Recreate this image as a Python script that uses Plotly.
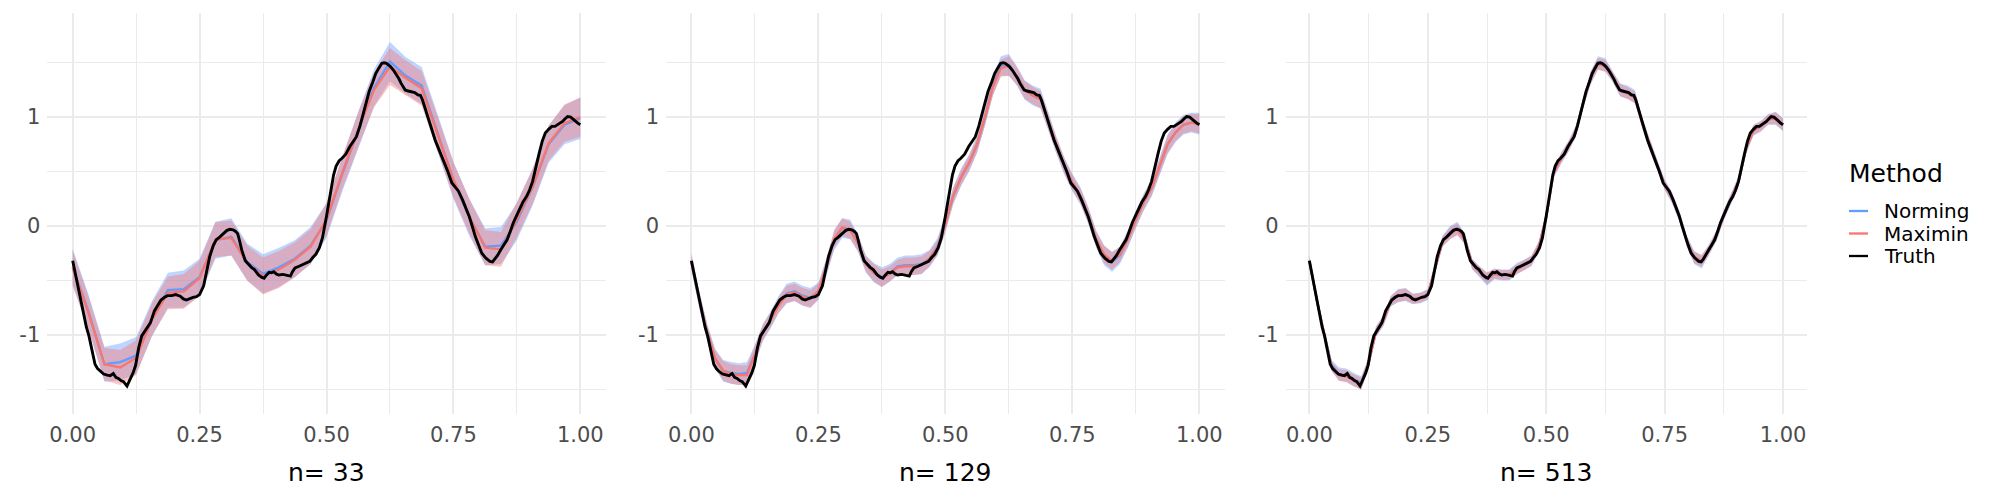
import plotly.graph_objects as go

# ---- data -------------------------------------------------------------
truth_x = [0.000, 0.010, 0.019, 0.027, 0.032, 0.038, 0.044, 0.049, 0.053, 0.061,
           0.068, 0.074, 0.080, 0.085, 0.090, 0.095, 0.100, 0.107, 0.113, 0.119,
           0.124, 0.130, 0.136, 0.145, 0.153, 0.161, 0.168, 0.174, 0.181, 0.187,
           0.195, 0.203, 0.212, 0.218, 0.224, 0.231, 0.237, 0.244, 0.250, 0.258,
           0.264, 0.270, 0.277, 0.283, 0.290, 0.295, 0.304, 0.310, 0.316, 0.321,
           0.325, 0.329, 0.333, 0.340, 0.346, 0.352, 0.358, 0.366, 0.372, 0.377,
           0.382, 0.387, 0.392, 0.396, 0.401, 0.406, 0.414, 0.421, 0.429, 0.433,
           0.438, 0.446, 0.454, 0.460, 0.467, 0.473, 0.479, 0.486, 0.492, 0.500,
           0.508, 0.514, 0.519, 0.525, 0.530, 0.538, 0.546, 0.552, 0.559, 0.566,
           0.572, 0.578, 0.584, 0.591, 0.597, 0.603, 0.609, 0.614, 0.618, 0.622,
           0.626, 0.632, 0.638, 0.643, 0.647, 0.651, 0.655, 0.661, 0.668, 0.674,
           0.680, 0.685, 0.689, 0.695, 0.701, 0.707, 0.714, 0.720, 0.726, 0.733,
           0.739, 0.747, 0.753, 0.760, 0.768, 0.775, 0.781, 0.787, 0.793, 0.800,
           0.806, 0.814, 0.822, 0.827, 0.831, 0.837, 0.843, 0.850, 0.856, 0.862,
           0.868, 0.875, 0.881, 0.887, 0.894, 0.900, 0.906, 0.912, 0.919, 0.925,
           0.931, 0.938, 0.944, 0.950, 0.956, 0.961, 0.965, 0.970, 0.975, 0.981,
           0.986, 0.990, 0.995, 1.000]
truth_y = [-0.32, -0.55, -0.77, -0.93, -1.01, -1.14, -1.27, -1.31, -1.33, -1.36,
           -1.37, -1.375, -1.355, -1.39, -1.40, -1.42, -1.43, -1.47, -1.41, -1.35,
           -1.28, -1.12, -1.01, -0.94, -0.89, -0.78, -0.72, -0.68, -0.655, -0.64,
           -0.64, -0.63, -0.645, -0.67, -0.68, -0.665, -0.655, -0.65, -0.63, -0.55,
           -0.42, -0.28, -0.18, -0.125, -0.10, -0.08, -0.04, -0.03, -0.035, -0.05,
           -0.07, -0.14, -0.22, -0.32, -0.355, -0.38, -0.40, -0.45, -0.47, -0.48,
           -0.45, -0.425, -0.43, -0.42, -0.44, -0.45, -0.445, -0.45, -0.46, -0.42,
           -0.385, -0.37, -0.355, -0.345, -0.325, -0.29, -0.26, -0.20, -0.11, 0.09,
           0.33, 0.47, 0.55, 0.60, 0.62, 0.66, 0.73, 0.77, 0.82, 0.92,
           1.02, 1.13, 1.235, 1.32, 1.40, 1.45, 1.495, 1.50, 1.495, 1.48,
           1.465, 1.43, 1.39, 1.35, 1.31, 1.28, 1.25, 1.24, 1.235, 1.225,
           1.205, 1.20, 1.16, 1.07, 0.975, 0.88, 0.79, 0.72, 0.655, 0.58,
           0.50, 0.395, 0.36, 0.32, 0.24, 0.16, 0.09, 0.00, -0.095, -0.18,
           -0.25, -0.295, -0.325, -0.33, -0.31, -0.27, -0.22, -0.17, -0.125, -0.05,
           0.03, 0.10, 0.165, 0.22, 0.27, 0.33, 0.41, 0.54, 0.67, 0.78,
           0.855, 0.89, 0.915, 0.915, 0.93, 0.95, 0.96, 0.985, 1.005, 1.0,
           0.98, 0.96, 0.945, 0.93]

# n = 33 design points
x33 = [k / 32 for k in range(33)]
norming_33 = [-0.38, -0.79, -1.27, -1.25, -1.19, -0.85, -0.59, -0.58, -0.47, -0.13,
              -0.10, -0.33, -0.44, -0.38, -0.30, -0.18, 0.05, 0.48, 0.88, 1.27,
              1.51, 1.38, 1.29, 0.86, 0.42, 0.08, -0.19, -0.18, 0.04, 0.36,
              0.75, 0.93, 0.99]
norming_33_hw = [0.17, 0.16, 0.16, 0.17, 0.17, 0.16, 0.16, 0.17, 0.17, 0.17,
                 0.17, 0.17, 0.18, 0.18, 0.17, 0.17, 0.16, 0.16, 0.17, 0.17,
                 0.18, 0.17, 0.17, 0.17, 0.17, 0.17, 0.17, 0.17, 0.17, 0.17,
                 0.17, 0.18, 0.19]
maximin_33 = [-0.385, -0.80, -1.27, -1.30, -1.21, -0.86, -0.615, -0.60, -0.48, -0.125,
              -0.11, -0.34, -0.46, -0.40, -0.31, -0.19, 0.06, 0.49, 0.885, 1.25,
              1.465, 1.36, 1.265, 0.855, 0.425, 0.09, -0.20, -0.215, 0.06, 0.365,
              0.76, 0.945, 1.0]
maximin_33_hw = [0.16, 0.15, 0.15, 0.16, 0.16, 0.15, 0.15, 0.16, 0.16, 0.16,
                 0.16, 0.16, 0.17, 0.17, 0.16, 0.16, 0.15, 0.15, 0.16, 0.16,
                 0.17, 0.16, 0.16, 0.16, 0.16, 0.16, 0.16, 0.16, 0.16, 0.16,
                 0.16, 0.17, 0.18]

# n = 129 and n = 513, read at every 1/64
x65 = [k / 64 for k in range(65)]
norming_129 = [-0.33, -0.68, -0.98, -1.22, -1.33, -1.35, -1.36, -1.35, -1.18, -0.98,
               -0.86, -0.72, -0.62, -0.60, -0.64, -0.66, -0.60, -0.38, -0.13, -0.02,
               -0.03, -0.16, -0.35, -0.43, -0.47, -0.43, -0.37, -0.36, -0.36, -0.35,
               -0.30, -0.19, 0.02, 0.28, 0.45, 0.58, 0.75, 1.00, 1.29, 1.47,
               1.48, 1.38, 1.25, 1.20, 1.17, 0.95, 0.74, 0.55, 0.40, 0.28,
               0.10, -0.12, -0.27, -0.33, -0.27, -0.12, 0.06, 0.22, 0.35, 0.55,
               0.75, 0.86, 0.93, 0.95, 0.94]
norming_129_hw = [0.08, 0.08, 0.08, 0.09, 0.10, 0.10, 0.10, 0.10, 0.09, 0.08,
                  0.08, 0.08, 0.09, 0.09, 0.09, 0.09, 0.08, 0.08, 0.09, 0.09,
                  0.09, 0.08, 0.08, 0.09, 0.09, 0.08, 0.08, 0.09, 0.09, 0.09,
                  0.08, 0.08, 0.08, 0.08, 0.08, 0.08, 0.08, 0.08, 0.09, 0.09,
                  0.10, 0.09, 0.09, 0.09, 0.09, 0.08, 0.08, 0.08, 0.08, 0.08,
                  0.08, 0.08, 0.09, 0.09, 0.08, 0.08, 0.08, 0.08, 0.08, 0.08,
                  0.09, 0.09, 0.09, 0.09, 0.10]
maximin_129 = [-0.33, -0.68, -0.98, -1.22, -1.33, -1.36, -1.37, -1.37, -1.18, -0.98,
               -0.86, -0.73, -0.63, -0.61, -0.65, -0.67, -0.60, -0.38, -0.12, -0.01,
               -0.04, -0.16, -0.35, -0.43, -0.48, -0.44, -0.38, -0.37, -0.37, -0.36,
               -0.30, -0.20, 0.02, 0.28, 0.45, 0.58, 0.75, 1.00, 1.28, 1.45,
               1.47, 1.38, 1.25, 1.20, 1.16, 0.95, 0.74, 0.55, 0.40, 0.28,
               0.10, -0.12, -0.26, -0.32, -0.26, -0.12, 0.06, 0.22, 0.35, 0.55,
               0.75, 0.86, 0.93, 0.95, 0.94]
maximin_129_hw = [0.07, 0.07, 0.07, 0.08, 0.09, 0.09, 0.09, 0.09, 0.08, 0.07,
                  0.07, 0.07, 0.08, 0.08, 0.08, 0.08, 0.07, 0.07, 0.08, 0.08,
                  0.08, 0.07, 0.07, 0.08, 0.08, 0.07, 0.07, 0.08, 0.08, 0.08,
                  0.07, 0.07, 0.07, 0.07, 0.07, 0.07, 0.07, 0.07, 0.08, 0.08,
                  0.09, 0.08, 0.08, 0.08, 0.08, 0.07, 0.07, 0.07, 0.07, 0.07,
                  0.07, 0.07, 0.08, 0.08, 0.07, 0.07, 0.07, 0.07, 0.07, 0.07,
                  0.08, 0.08, 0.08, 0.08, 0.09]
norming_513 = [-0.32, -0.68, -0.99, -1.28, -1.36, -1.37, -1.41, -1.44, -1.26, -0.97,
               -0.87, -0.69, -0.64, -0.63, -0.67, -0.66, -0.63, -0.38, -0.14, -0.06,
               -0.02, -0.12, -0.35, -0.42, -0.49, -0.44, -0.45, -0.45, -0.39, -0.36,
               -0.32, -0.19, 0.08, 0.49, 0.62, 0.73, 0.87, 1.13, 1.36, 1.50,
               1.48, 1.37, 1.25, 1.23, 1.19, 0.94, 0.74, 0.56, 0.38, 0.26,
               0.09, -0.14, -0.29, -0.33, -0.22, -0.09, 0.10, 0.25, 0.41, 0.71,
               0.88, 0.915, 0.98, 0.99, 0.93]
norming_513_hw = [0.05, 0.05, 0.05, 0.05, 0.06, 0.06, 0.06, 0.06, 0.05, 0.05,
                  0.05, 0.05, 0.06, 0.06, 0.05, 0.05, 0.05, 0.05, 0.05, 0.06,
                  0.06, 0.05, 0.05, 0.05, 0.06, 0.05, 0.05, 0.05, 0.05, 0.05,
                  0.05, 0.05, 0.05, 0.05, 0.05, 0.05, 0.05, 0.05, 0.06, 0.06,
                  0.06, 0.05, 0.06, 0.06, 0.06, 0.05, 0.05, 0.05, 0.05, 0.05,
                  0.05, 0.05, 0.06, 0.06, 0.05, 0.05, 0.05, 0.05, 0.05, 0.05,
                  0.05, 0.05, 0.05, 0.06, 0.06]
maximin_513 = [-0.32, -0.68, -0.99, -1.29, -1.37, -1.38, -1.42, -1.45, -1.26, -0.97,
               -0.87, -0.69, -0.64, -0.63, -0.67, -0.66, -0.63, -0.38, -0.14, -0.07,
               -0.03, -0.12, -0.35, -0.42, -0.48, -0.44, -0.45, -0.45, -0.40, -0.36,
               -0.32, -0.19, 0.08, 0.49, 0.62, 0.73, 0.87, 1.13, 1.36, 1.49,
               1.47, 1.37, 1.25, 1.22, 1.18, 0.94, 0.74, 0.56, 0.38, 0.26,
               0.09, -0.14, -0.29, -0.32, -0.22, -0.09, 0.10, 0.25, 0.41, 0.71,
               0.88, 0.915, 0.98, 0.99, 0.93]
maximin_513_hw = [0.045, 0.045, 0.045, 0.045, 0.055, 0.055, 0.055, 0.055, 0.045, 0.045,
                  0.045, 0.045, 0.055, 0.055, 0.045, 0.045, 0.045, 0.045, 0.045, 0.055,
                  0.055, 0.045, 0.045, 0.045, 0.055, 0.045, 0.045, 0.045, 0.045, 0.045,
                  0.045, 0.045, 0.045, 0.045, 0.045, 0.045, 0.045, 0.045, 0.055, 0.055,
                  0.055, 0.045, 0.055, 0.055, 0.055, 0.045, 0.045, 0.045, 0.045, 0.045,
                  0.045, 0.045, 0.055, 0.055, 0.045, 0.045, 0.045, 0.045, 0.045, 0.045,
                  0.045, 0.045, 0.045, 0.055, 0.055]

panel_titles = ["n= 33", "n= 129", "n= 513"]
methods = ["Norming", "Maximin", "Truth"]
x_ticks = [0, 0.25, 0.5, 0.75, 1]
x_ticktext = ["0.00", "0.25", "0.50", "0.75", "1.00"]
y_ticks = [-1, 0, 1]
y_ticktext = ["-1", "0", "1"]

panels = [
    (x33, norming_33, norming_33_hw, maximin_33, maximin_33_hw),
    (x65, norming_129, norming_129_hw, maximin_129, maximin_129_hw),
    (x65, norming_513, norming_513_hw, maximin_513, maximin_513_hw),
]

# ---- styling ------------------------------------------------------------
W, H = 2000, 500
FONT = "DejaVu Sans"
BLUE, RED = "#619CFF", "#F8766D"
BLUE_FILL, RED_FILL = "rgba(97,156,255,0.42)", "rgba(248,118,109,0.42)"
GRID = "#EBEBEB"
# panel pixel extents (left, right) and vertical extent (top, bottom)
panel_px = [(47.3, 605.7), (666.0, 1224.7), (1285.7, 1806.7)]
top_px, bot_px = 13.3, 414.3
y_range = [-1.73, 1.954]

fig = go.Figure()


def ribbon(x, m, hw, fill, ax):
    up = [a + b for a, b in zip(m, hw)]
    lo = [a - b for a, b in zip(m, hw)]
    return go.Scatter(x=list(x) + list(x)[::-1], y=up + lo[::-1], fill="toself",
                      fillcolor=fill, line=dict(width=0), mode="lines",
                      hoverinfo="skip", showlegend=False, xaxis=ax[0], yaxis=ax[1])


for i, (x, nm, nhw, mm, mhw) in enumerate(panels):
    ax = ("x" if i == 0 else f"x{i+1}", "y" if i == 0 else f"y{i+1}")
    fig.add_trace(ribbon(x, nm, nhw, BLUE_FILL, ax))
    fig.add_trace(ribbon(x, mm, mhw, RED_FILL, ax))
    fig.add_trace(go.Scatter(x=x, y=nm, mode="lines", line=dict(color=BLUE, width=2.3),
                             name=methods[0], showlegend=False, xaxis=ax[0], yaxis=ax[1]))
    fig.add_trace(go.Scatter(x=x, y=mm, mode="lines", line=dict(color=RED, width=2.3),
                             name=methods[1], showlegend=False, xaxis=ax[0], yaxis=ax[1]))
    fig.add_trace(go.Scatter(x=truth_x, y=truth_y, mode="lines",
                             line=dict(color="black", width=2.9),
                             name=methods[2], showlegend=False, xaxis=ax[0], yaxis=ax[1]))

layout = dict(width=W, height=H, margin=dict(l=0, r=0, t=0, b=0),
              plot_bgcolor="white", paper_bgcolor="white",
              font=dict(family=FONT), showlegend=False)

ydom = [1 - bot_px / H, 1 - top_px / H]
for i, (l, r) in enumerate(panel_px):
    sx = "" if i == 0 else str(i + 1)
    layout["xaxis" + sx] = dict(
        domain=[l / W, r / W], range=[-0.05, 1.05], anchor="y" + sx,
        tickvals=x_ticks, ticktext=x_ticktext, showgrid=True, gridcolor=GRID, gridwidth=2,
        zeroline=False, showline=False, ticks="", ticklabelstandoff=6,
        tickfont=dict(family=FONT, size=21, color="#4D4D4D"),
        minor=dict(tickvals=[0.125, 0.375, 0.625, 0.875], showgrid=True,
                   gridcolor=GRID, gridwidth=1, ticks=""),
    )
    layout["yaxis" + sx] = dict(
        domain=ydom, range=y_range, anchor="x" + sx,
        tickvals=y_ticks, ticktext=y_ticktext, showgrid=True, gridcolor=GRID, gridwidth=2,
        zeroline=False, showline=False, ticks="", ticklabelstandoff=6,
        tickfont=dict(family=FONT, size=21, color="#4D4D4D"),
        minor=dict(tickvals=[-1.5, -0.5, 0.5, 1.5], showgrid=True,
                   gridcolor=GRID, gridwidth=1, ticks=""),
    )
fig.update_layout(**layout)

# panel titles (x-axis titles)
for i, (l, r) in enumerate(panel_px):
    fig.add_annotation(text=panel_titles[i], x=(l + r) / 2 / W, y=1 - 472 / H,
                       xref="paper", yref="paper", showarrow=False,
                       xanchor="center", yanchor="middle",
                       font=dict(family=FONT, size=25, color="black"))

# legend drawn by hand
fig.add_annotation(text="Method", x=1847 / W, y=1 - 173 / H, xref="paper", yref="paper",
                   showarrow=False, xanchor="left", yanchor="middle",
                   font=dict(family=FONT, size=25, color="black"))
for j, (name, col) in enumerate(zip(methods, [BLUE, RED, "black"])):
    yy = 1 - (211 + 22.5 * j) / H
    fig.add_shape(type="line", xref="paper", yref="paper", x0=1849 / W, x1=1868 / W,
                  y0=yy, y1=yy, line=dict(color=col, width=2.3))
    fig.add_annotation(text=name, x=1882 / W, y=yy, xref="paper", yref="paper",
                       showarrow=False, xanchor="left", yanchor="middle",
                       font=dict(family=FONT, size=20, color="black"))

fig.write_html("out.html", config={"displayModeBar": False},
               post_script="document.body.style.margin='0';")
